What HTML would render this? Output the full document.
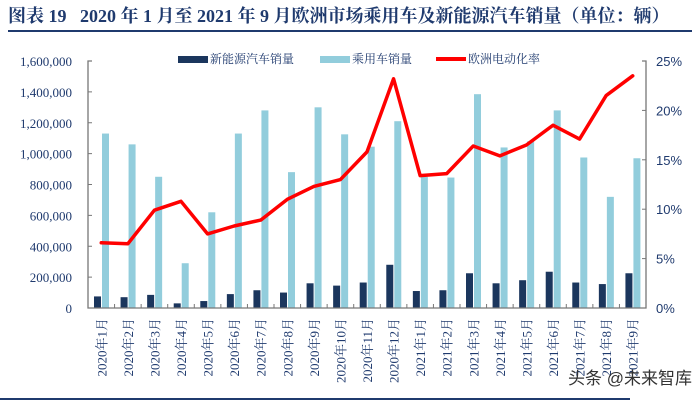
<!DOCTYPE html>
<html><head><meta charset="utf-8">
<style>
html,body{margin:0;padding:0;background:#fff;}
body{width:700px;height:403px;overflow:hidden;position:relative;font-family:"Liberation Serif","Noto Serif CJK SC",serif;}
</style></head>
<body>
<svg id="chart" width="700" height="403" xmlns="http://www.w3.org/2000/svg">
  <text x="8" y="22" font-size="18" font-weight="bold" fill="#1f3a6e" font-family="'Liberation Serif','Noto Serif CJK SC',serif">图表 19&#160;&#160;&#160;2020 年 1 月至 2021 年 9 月欧洲市场乘用车及新能源汽车销量（单位：辆）</text>
  <rect x="8" y="30" width="684" height="2" fill="#1f3a6e"/>
  <rect x="0" y="398" width="630" height="2" fill="#1f3a6e"/>
  <g id="legend">
    <g><rect x="178" y="56" width="30" height="7" fill="#1b365d"/><text x="210" y="63" font-size="12" fill="#1f3a6e">新能源汽车销量</text></g>
    <g><rect x="320" y="56" width="30" height="7" fill="#92cddc"/><text x="352" y="63" font-size="12" fill="#1f3a6e">乘用车销量</text></g>
    <g><rect x="436" y="57" width="30" height="4" fill="#ff0000"/><text x="468" y="63" font-size="12" fill="#1f3a6e">欧洲电动化率</text></g>
  </g>
  <g id="plot"></g>
  <text x="568" y="384" font-size="17" fill="#333" font-family="'Liberation Sans','Noto Sans CJK SC',sans-serif">头条 @未来智库</text>
</svg>
<script>
const categories=["2020年1月","2020年2月","2020年3月","2020年4月","2020年5月","2020年6月","2020年7月","2020年8月","2020年9月","2020年10月","2020年11月","2020年12月","2021年1月","2021年2月","2021年3月","2021年4月","2021年5月","2021年6月","2021年7月","2021年8月","2021年9月"];
const nevSales=[75000,70000,85000,30000,45000,90000,115000,100000,160000,145000,165000,280000,110000,115000,225000,160000,180000,235000,165000,155000,225000];
const passengerSales=[1130000,1060000,850000,290000,620000,1130000,1280000,880000,1300000,1125000,1045000,1210000,850000,845000,1385000,1040000,1080000,1280000,975000,720000,970000];
const evRate=[6.6,6.5,9.9,10.8,7.5,8.3,8.9,11.0,12.3,13.0,15.8,23.2,13.4,13.6,16.4,15.4,16.5,18.5,17.1,21.5,23.5];
const leftTicks=[0,200000,400000,600000,800000,1000000,1200000,1400000,1600000];
const leftTickLabels=["0","200,000","400,000","600,000","800,000","1,000,000","1,200,000","1,400,000","1,600,000"];
const rightTicks=[0,5,10,15,20,25];
const rightTickLabels=["0%","5%","10%","15%","20%","25%"];

const NS="http://www.w3.org/2000/svg";
const X0=88,X1=646,Y0=308,Y1=61;
const cw=(X1-X0)/categories.length;
const yL=v=>Y0-(v/1600000)*(Y0-Y1);
const yR=v=>Y0-(v/25)*(Y0-Y1);
const xC=i=>X0+cw*i;
const g=document.getElementById('plot');
function mk(tag,attrs){const e=document.createElementNS(NS,tag);for(const k in attrs)e.setAttribute(k,attrs[k]);g.appendChild(e);return e;}

categories.forEach((c,i)=>{
  const b1=mk('rect',{x:xC(i)+6,y:yL(nevSales[i]),width:7,height:Y0-yL(nevSales[i]),fill:'#1b365d'});
  
  
  const b2=mk('rect',{x:xC(i)+14,y:yL(passengerSales[i]),width:7,height:Y0-yL(passengerSales[i]),fill:'#92cddc'});
  
  
});
const ax=mk('path',{d:`M${X0+4},${Y1} H${X0} V${Y0} H${X1} V${Y1} H${X1-4}`,fill:'none',stroke:'#777','stroke-width':1.3});


leftTicks.forEach((v,i)=>{
  const t=mk('line',{x1:X0,x2:X0+4,y1:yL(v),y2:yL(v),stroke:'#777'});
  
  
  const l=mk('text',{x:72,y:yL(v)+5,'text-anchor':'end','font-size':13,fill:'#1f3a6e'});
  l.textContent=leftTickLabels[i];
  
  
});
rightTicks.forEach((v,i)=>{
  const t=mk('line',{x1:X1-4,x2:X1,y1:yR(v),y2:yR(v),stroke:'#777'});
  
  
  const l=mk('text',{x:656,y:yR(v)+5,'font-size':13,fill:'#1f3a6e','font-family':"'Liberation Sans',sans-serif"});
  l.textContent=rightTickLabels[i];
  
  
});
for(let i=1;i<categories.length;i++){
  const t=mk('line',{x1:xC(i),x2:xC(i),y1:Y0,y2:Y0-4,stroke:'#777'});
  
  
}
categories.forEach((c,i)=>{
  const cx=xC(i)+cw/2+5;
  const l=mk('text',{x:cx,y:318,'font-size':13,fill:'#1f3a6e','text-anchor':'end',transform:`rotate(-90 ${cx} 318)`});
  l.textContent=c;
  
  
});
const pts=evRate.map((v,i)=>`${xC(i)+cw/2},${yR(v)}`).join(' ');
const pl=mk('polyline',{points:pts,fill:'none',stroke:'#ff0000','stroke-width':3.5,'stroke-linejoin':'round','stroke-linecap':'round'});


</script>
</body></html>
